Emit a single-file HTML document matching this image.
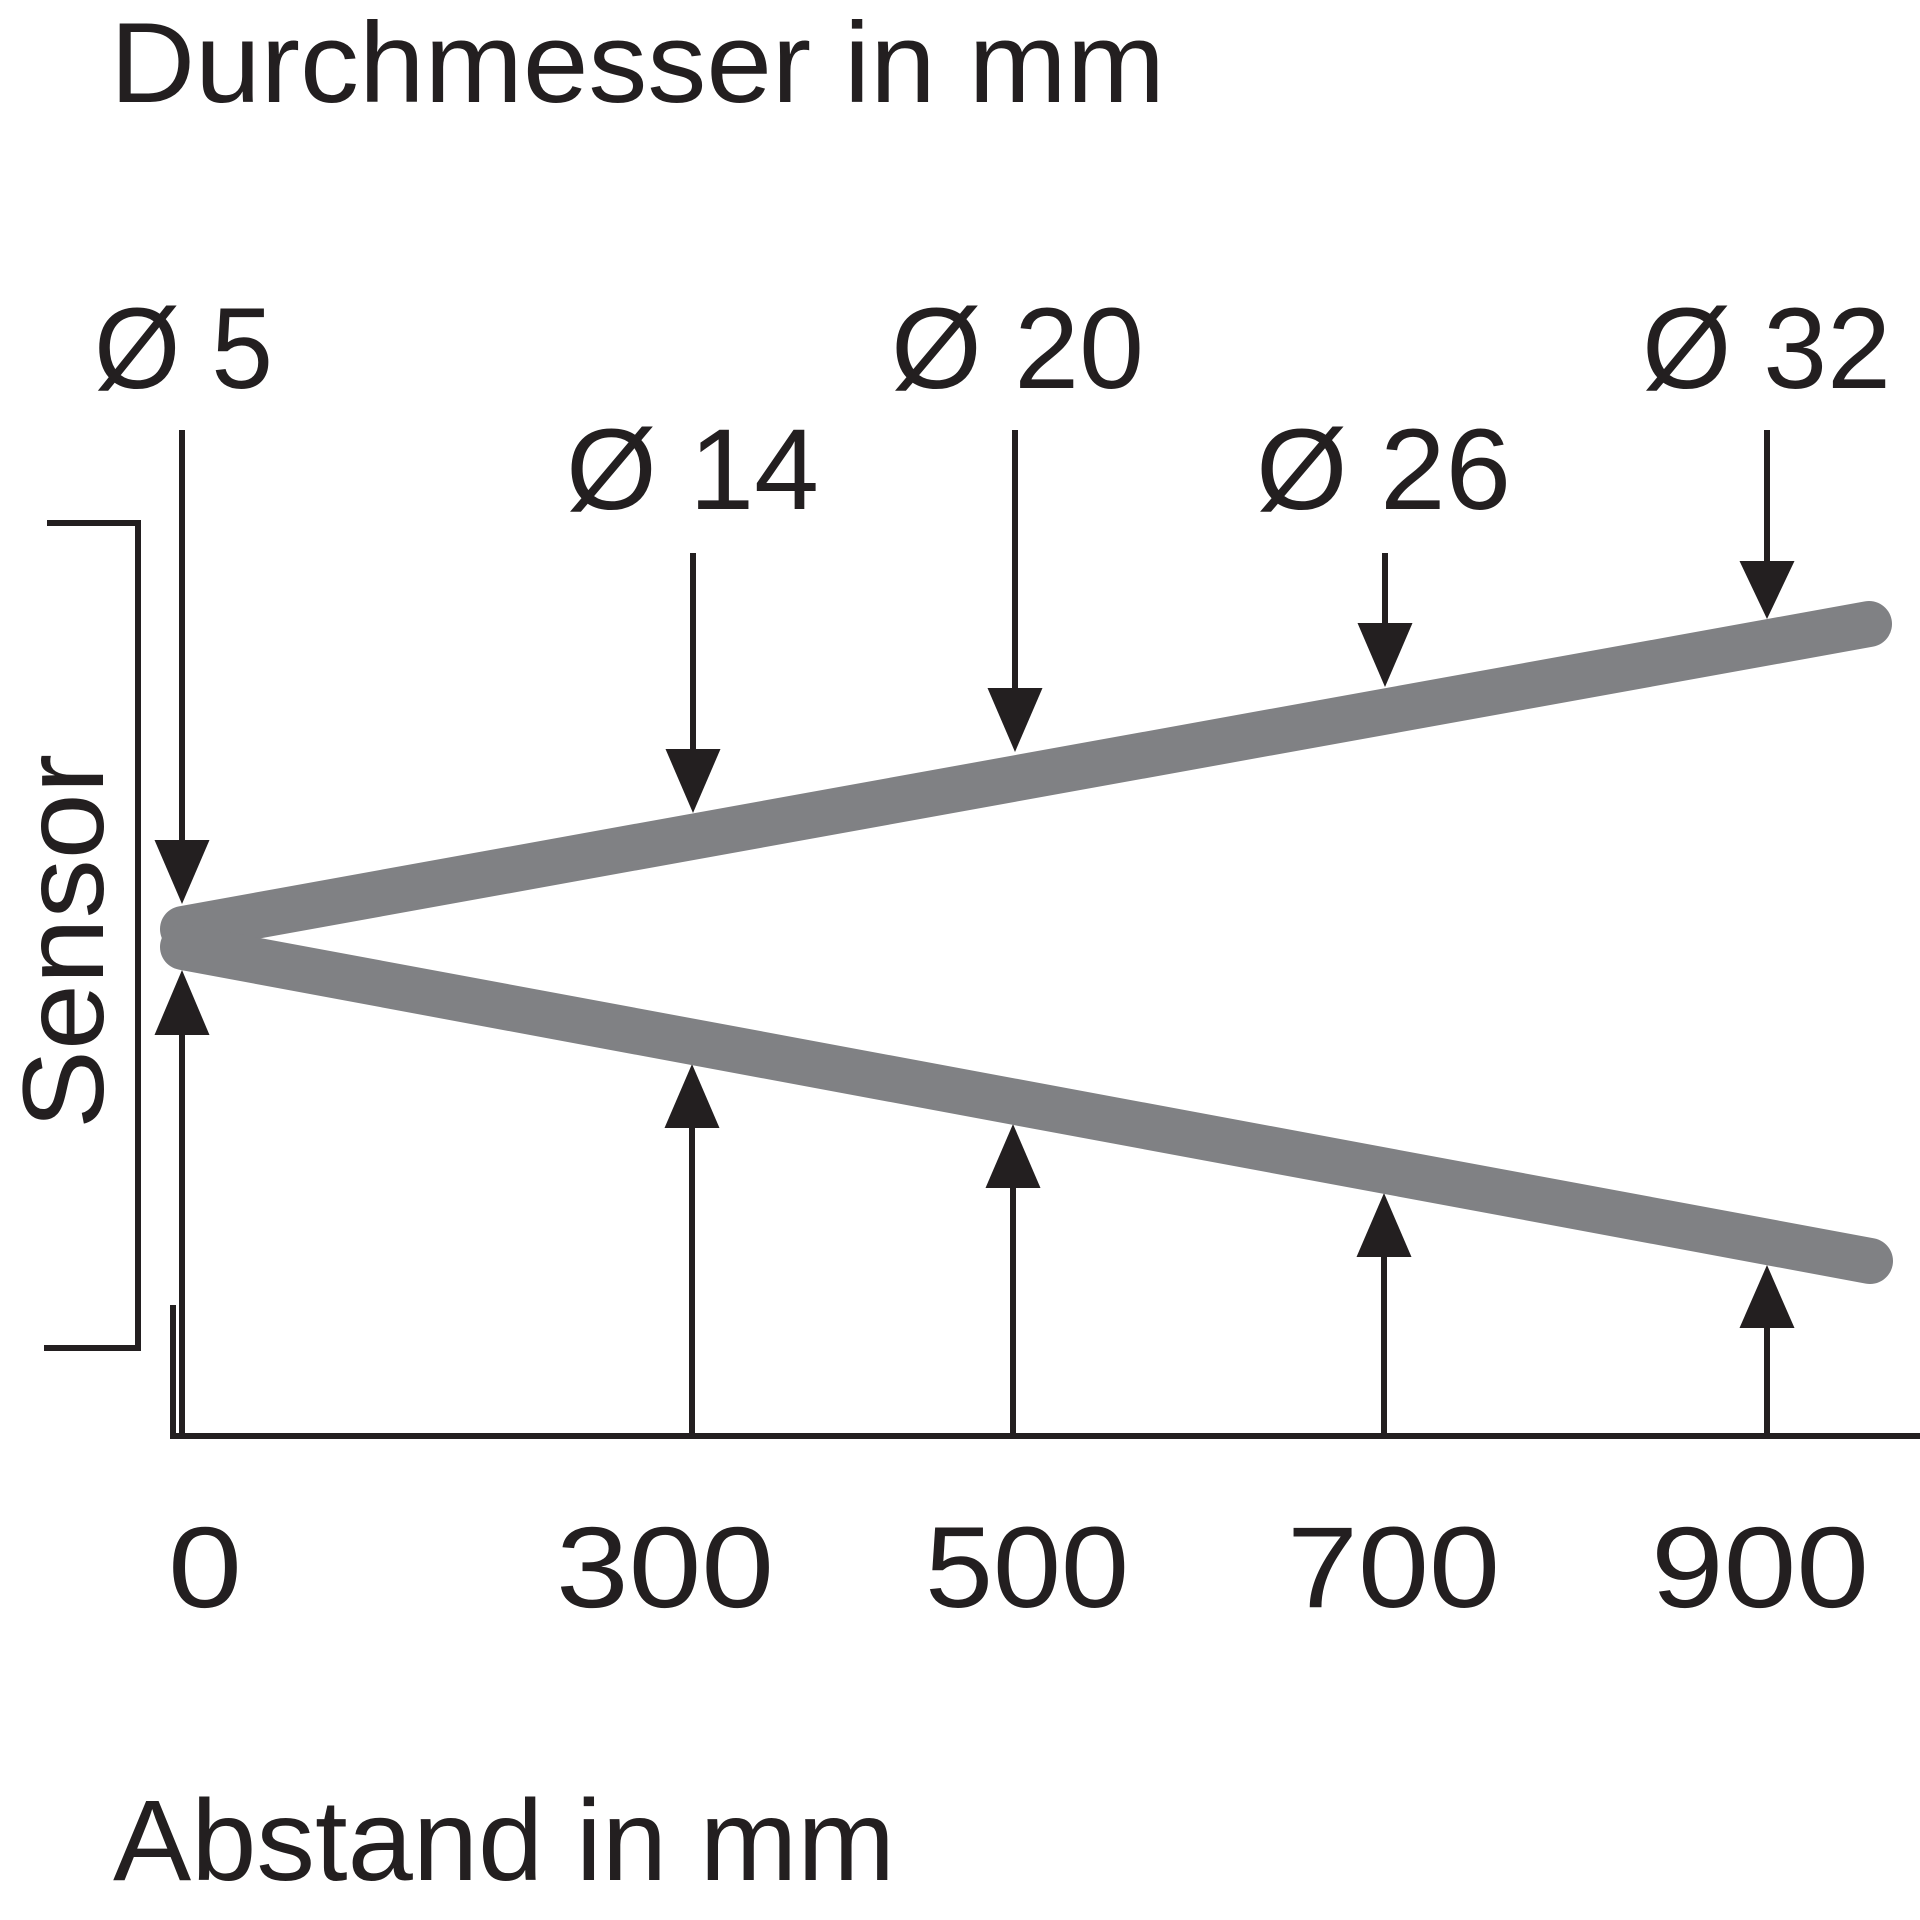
<!DOCTYPE html>
<html>
<head>
<meta charset="utf-8">
<style>
  html, body { margin:0; padding:0; background:#ffffff; }
  body { width:1920px; height:1920px; overflow:hidden; }
  svg { display:block; }
  text { font-family: "Liberation Sans", Arial, sans-serif; fill:#231f20; }
</style>
</head>
<body>
<svg width="1920" height="1920" viewBox="0 0 1920 1920" xmlns="http://www.w3.org/2000/svg">
  <rect x="0" y="0" width="1920" height="1920" fill="#ffffff"/>

  <!-- Title -->
  <text x="110" y="102" font-size="114" textLength="1055" lengthAdjust="spacingAndGlyphs">Durchmesser in mm</text>

  <!-- Diameter labels -->
  <text x="94" y="388" font-size="115" textLength="179" lengthAdjust="spacingAndGlyphs">Ø 5</text>
  <text x="891" y="388" font-size="115" textLength="253" lengthAdjust="spacingAndGlyphs">Ø 20</text>
  <text x="1642" y="388" font-size="115" textLength="249" lengthAdjust="spacingAndGlyphs">Ø 32</text>
  <text x="566" y="509" font-size="115" textLength="253" lengthAdjust="spacingAndGlyphs">Ø 14</text>
  <text x="1256" y="509" font-size="115" textLength="255" lengthAdjust="spacingAndGlyphs">Ø 26</text>

  <!-- Sensor label (rotated) -->
  <text transform="translate(103,1129) rotate(-90)" x="0" y="0" font-size="115" textLength="375" lengthAdjust="spacingAndGlyphs">Sensor</text>

  <!-- Bracket -->
  <polyline points="47,523 138,523 138,1348 44,1348" fill="none" stroke="#231f20" stroke-width="6" stroke-linejoin="miter"/>

  <!-- Axis -->
  <polyline points="173,1305 173,1436 1920,1436" fill="none" stroke="#231f20" stroke-width="6" stroke-linejoin="miter"/>

  <g stroke="#231f20" stroke-width="6" fill="none">
    <!-- down stems -->
    <line x1="182" y1="430" x2="182" y2="845"/>
    <line x1="693" y1="553" x2="693" y2="755"/>
    <line x1="1015" y1="430" x2="1015" y2="694"/>
    <line x1="1385" y1="553" x2="1385" y2="629"/>
    <line x1="1767" y1="430" x2="1767" y2="566"/>
    <!-- up stems -->
    <line x1="182" y1="1030" x2="182" y2="1436"/>
    <line x1="692" y1="1124" x2="692" y2="1436"/>
    <line x1="1013" y1="1184" x2="1013" y2="1436"/>
    <line x1="1384" y1="1253" x2="1384" y2="1436"/>
    <line x1="1767" y1="1324" x2="1767" y2="1436"/>
  </g>

  <g fill="#231f20">
    <!-- down heads -->
    <polygon points="154.5,840 209.5,840 182,904"/>
    <polygon points="665.5,749 720.5,749 693,813"/>
    <polygon points="987.5,688 1042.5,688 1015,752"/>
    <polygon points="1357.5,623 1412.5,623 1385,687"/>
    <polygon points="1739.5,561 1794.5,561 1767,619"/>
    <!-- up heads -->
    <polygon points="154.5,1035 209.5,1035 182,970"/>
    <polygon points="664.5,1128 719.5,1128 692,1064"/>
    <polygon points="985.5,1188 1040.5,1188 1013,1124"/>
    <polygon points="1356.5,1257 1411.5,1257 1384,1193"/>
    <polygon points="1739.5,1328 1794.5,1328 1767,1265"/>
  </g>

  <!-- Gray beam bands -->
  <g stroke="#808184" stroke-width="46" stroke-linecap="round" fill="none">
    <line x1="183" y1="929" x2="1869" y2="624"/>
    <line x1="183" y1="947" x2="1870" y2="1261"/>
  </g>

  <!-- X labels -->
  <text x="168" y="1607" font-size="115" textLength="74" lengthAdjust="spacingAndGlyphs">0</text>
  <text x="556" y="1607" font-size="115" textLength="218" lengthAdjust="spacingAndGlyphs">300</text>
  <text x="925" y="1607" font-size="115" textLength="204" lengthAdjust="spacingAndGlyphs">500</text>
  <text x="1287" y="1607" font-size="115" textLength="213" lengthAdjust="spacingAndGlyphs">700</text>
  <text x="1651" y="1607" font-size="115" textLength="218" lengthAdjust="spacingAndGlyphs">900</text>

  <!-- Bottom axis title -->
  <text x="113" y="1880" font-size="115" textLength="782" lengthAdjust="spacingAndGlyphs">Abstand in mm</text>
</svg>
</body>
</html>
